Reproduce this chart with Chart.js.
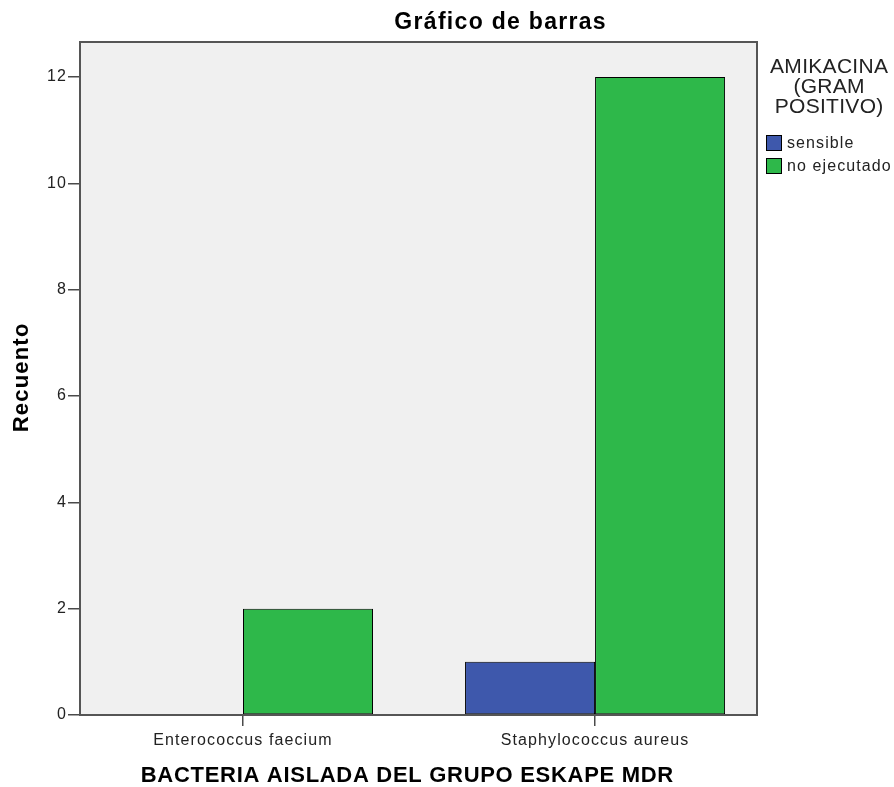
<!DOCTYPE html>
<html>
<head>
<meta charset="utf-8">
<script src="https://cdn.jsdelivr.net/npm/chart.js@4/dist/chart.umd.min.js"></script>
<style>
html,body{margin:0;padding:0;background:#fff;}
#wrap{width:894px;height:787px;position:relative;}
</style>
</head>
<body>
<div id="wrap"><canvas id="c" width="894" height="787"></canvas></div>
<script>
const categories = ["Enterococcus faecium", "Staphylococcus aureus"];
const seriesNames = ["sensible", "no ejecutado"];
const sensible = [0, 1];
const noEjecutado = [2, 12];
const yTicks = [0, 2, 4, 6, 8, 10, 12];
const chartTitle = "Gráfico de barras";
const xTitle = "BACTERIA AISLADA DEL GRUPO ESKAPE MDR";
const yTitle = "Recuento";
const legendTitle = ["AMIKACINA", "(GRAM", "POSITIVO)"];

const FONT = "'Liberation Sans', Arial, sans-serif";
const colors = ["#3e58ac", "#2eb84a"];

const toPoints = arr => arr.map((v, i) => ({x: i, y: v}));

function spacedText(ctx, text, x, y, spacing, align) {
  ctx.letterSpacing = spacing + 'px';
  const w = ctx.measureText(text).width - spacing;
  let sx = x;
  if (align === 'center') sx = x - w / 2;
  else if (align === 'right') sx = x - w;
  ctx.textAlign = 'left';
  ctx.fillText(text, sx, y);
}

const framePlugin = {
  id: 'frame',
  beforeDraw(chart) {
    chart.ctx.letterSpacing = '1.1px';
  },
  beforeDatasetsDraw(chart) {
    const {ctx, chartArea: a} = chart;
    ctx.save();
    ctx.fillStyle = '#f0f0f0';
    ctx.fillRect(a.left, a.top, a.right - a.left, a.bottom - a.top);
    ctx.restore();
  },
  afterDraw(chart) {
    const {ctx, chartArea: a} = chart;
    ctx.save();
    ctx.strokeStyle = '#555';
    ctx.lineWidth = 2;
    ctx.strokeRect(a.left, a.top, a.right - a.left, a.bottom - a.top);
    // titles
    ctx.fillStyle = '#000';
    ctx.textBaseline = 'middle';
    ctx.font = "bold 23px " + FONT;
    spacedText(ctx, chartTitle, 500, 23, 1.3, 'center');
    ctx.font = "bold 22px " + FONT;
    spacedText(ctx, xTitle, 407, 776, 0.7, 'center');
    ctx.save();
    ctx.translate(22, 378);
    ctx.rotate(-Math.PI / 2);
    spacedText(ctx, yTitle, 0, 0, 1.2, 'center');
    ctx.restore();
    // legend
    ctx.fillStyle = '#222';
    ctx.font = "21px " + FONT;
    legendTitle.forEach((t, i) => spacedText(ctx, t, 829, 67 + i * 20, 0.3, 'center'));
    ctx.font = "16px " + FONT;
    chart.data.datasets.forEach((ds, i) => {
      const y = 143 + i * 23;
      ctx.fillStyle = ds.backgroundColor;
      ctx.fillRect(766, y - 8, 16, 16);
      ctx.strokeStyle = '#000';
      ctx.lineWidth = 1;
      ctx.strokeRect(766.5, y - 7.5, 15, 15);
      ctx.fillStyle = '#222';
      spacedText(ctx, ds.label, 787, y + 1, 1.1, 'left');
    });
    ctx.restore();
  }
};

new Chart(document.getElementById('c'), {
  type: 'bar',
  data: {
    datasets: [
      {label: seriesNames[0], data: toPoints(sensible), backgroundColor: colors[0], borderColor: '#000', borderWidth: 1, borderSkipped: false},
      {label: seriesNames[1], data: toPoints(noEjecutado), backgroundColor: colors[1], borderColor: '#000', borderWidth: 1, borderSkipped: false}
    ]
  },
  options: {
    responsive: false,
    animation: false,
    devicePixelRatio: 1,
    layout: {padding: {left: 0, right: 137, top: 42, bottom: 0}},
    datasets: {bar: {categoryPercentage: 0.7386, barPercentage: 1, grouped: true}},
    plugins: {legend: {display: false}, tooltip: {enabled: false}, title: {display: false}},
    scales: {
      x: {
        type: 'linear',
        min: -0.463,
        max: 1.46,
        offset: false,
        afterBuildTicks: s => { s.ticks = categories.map((c, i) => ({value: i})); },
        afterFit: s => { s.height = 72; },
        ticks: {
          callback: v => categories[v] ?? '',
          color: '#222',
          font: {family: FONT, size: 16},
          padding: 5,
          maxRotation: 0,
          autoSkip: false
        },
        grid: {offset: false, drawOnChartArea: false, drawTicks: true, tickLength: 11, color: '#4a4a4a', lineWidth: 1.5},
        border: {display: false}
      },
      y: {
        min: 0,
        max: 12.66,
        afterBuildTicks: s => { s.ticks = yTicks.map(v => ({value: v})); },
        afterFit: s => { s.width = 80; },
        ticks: {
          color: '#222',
          font: {family: FONT, size: 16},
          padding: 1
        },
        grid: {drawOnChartArea: false, drawTicks: true, tickLength: 12, color: '#4a4a4a', lineWidth: 1.5},
        border: {display: false}
      }
    }
  },
  plugins: [framePlugin]
});
</script>
</body>
</html>
